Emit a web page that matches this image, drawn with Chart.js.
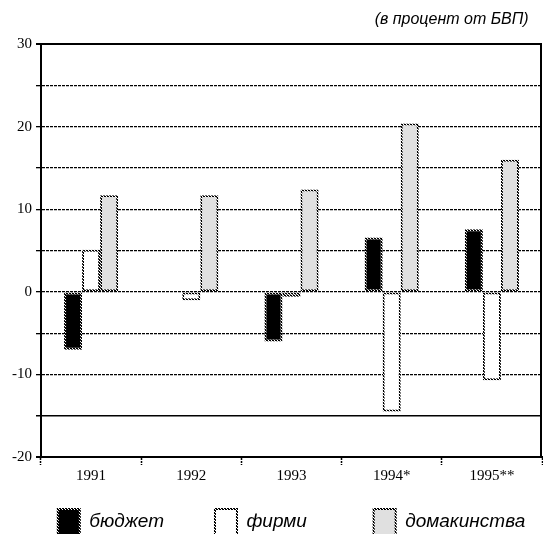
<!DOCTYPE html>
<html>
<head>
<meta charset="utf-8">
<script src="https://cdn.jsdelivr.net/npm/chart.js@4/dist/chart.umd.min.js"></script>
<style>
  html, body { margin: 0; padding: 0; background: #fff; }
  #wrap { width: 543px; height: 534px; }
</style>
</head>
<body>
<div id="wrap"><canvas id="myChart" width="543" height="534"></canvas></div>
<script>
var years = ['1991', '1992', '1993', '1994*', '1995**'];
var budget = [-7.0, null, -6.0, 6.6, 7.6];
var firms = [5.1, -1.0, -0.6, -14.5, -10.7];
var households = [11.7, 11.7, 12.4, 20.4, 16.0];
var seriesNames = ['бюджет', 'фирми', 'домакинства'];

var legendFont = { family: 'Liberation Sans', size: 19, style: 'italic' };
var legendPad = 14;
var legendSlot = 158; // legend items sit in equal columns in the original

// dotted border like the scanned original
function dottedPattern() {
  var c = document.createElement('canvas');
  c.width = 3; c.height = 3;
  var g = c.getContext('2d');
  g.fillStyle = '#000';
  g.fillRect(0, 0, 3, 3);
  g.fillStyle = '#fff';
  g.fillRect(0, 0, 1, 1);
  g.fillRect(1, 1, 1, 1);
  g.fillRect(2, 2, 1, 1);
  return g.createPattern(c, 'repeat');
}
var dots = dottedPattern();

// pad label text with spaces so each legend item fills its column
var measure = document.createElement('canvas').getContext('2d');
measure.font = 'italic ' + legendFont.size + 'px ' + legendFont.family;
function padText(t, w) {
  while (measure.measureText(t + ' ').width - w < w - measure.measureText(t).width) t += ' ';
  return t;
}

var rightBorder = {
  id: 'rightBorder',
  afterDraw: function (chart) {
    var a = chart.chartArea, c = chart.ctx;
    c.save();
    c.strokeStyle = '#000';
    c.lineWidth = 2;
    c.beginPath();
    c.moveTo(a.right - 1, a.top - 1);
    c.lineTo(a.right - 1, a.bottom);
    c.stroke();
    c.restore();
  }
};

var ctx = document.getElementById('myChart');
var myChart = new Chart(ctx, {
  type: 'bar',
  data: {
    labels: years,
    datasets: [
      { label: seriesNames[0], data: budget, backgroundColor: '#000', borderColor: dots, borderWidth: 2, borderSkipped: false },
      { label: seriesNames[1], data: firms, backgroundColor: '#fff', borderColor: dots, borderWidth: 2, borderSkipped: false },
      { label: seriesNames[2], data: households, backgroundColor: '#e0e0e0', borderColor: dots, borderWidth: 2, borderSkipped: false }
    ]
  },
  plugins: [rightBorder],
  options: {
    responsive: false,
    maintainAspectRatio: false,
    animation: false,
    layout: { padding: { left: 8, right: 1, top: 0, bottom: -11 } },
    datasets: { bar: { categoryPercentage: 0.54, barPercentage: 1.0 } },
    plugins: {
      tooltip: { enabled: false },
      title: {
        display: true,
        text: '(в процент от БВП)   ',
        align: 'end',
        color: '#000',
        font: { family: 'Liberation Sans', size: 16, style: 'italic', weight: 'normal' },
        padding: { top: 10, bottom: 15 }
      },
      legend: {
        position: 'bottom',
        fullSize: false,
        labels: {
          color: '#000',
          boxWidth: 22,
          boxHeight: 26,
          padding: legendPad,
          font: legendFont,
          generateLabels: function (chart) {
            var items = Chart.defaults.plugins.legend.labels.generateLabels(chart);
            var textW = legendSlot - legendPad - 22 - legendFont.size / 2;
            items.forEach(function (it, i) {
              if (i < items.length - 1) it.text = padText(it.text, textW);
            });
            return items;
          }
        }
      }
    },
    scales: {
      x: {
        offset: true,
        afterFit: function (scale) { scale.height = 38; },
        grid: { offset: true, drawOnChartArea: false, drawTicks: true, tickLength: 8, tickColor: '#000', tickWidth: 1.5, tickBorderDash: [2, 1] },
        border: { display: true, color: '#000', width: 2 },
        ticks: { color: '#000', padding: 4, font: { family: 'Liberation Serif', size: 15, lineHeight: 1 } }
      },
      y: {
        min: -20,
        max: 30,
        ticks: {
          stepSize: 5,
          color: '#000',
          padding: 4,
          font: { family: 'Liberation Serif', size: 15 },
          callback: function (v) { return v % 10 === 0 ? v : ''; }
        },
        grid: {
          color: '#000',
          tickColor: '#000',
          tickLength: 5,
          lineWidth: function (c) {
            if (!c.tick) return 1;
            if (c.tick.value === 30 || c.tick.value === -20) return 2;
            if (c.tick.value === -15) return 1.5;
            return 1.3;
          }
        },
        border: {
          display: true,
          color: '#000',
          width: 2,
          dash: function (c) {
            if (!c.tick) return [];
            var v = c.tick.value;
            return (v === 30 || v === -20 || v === -15) ? [] : [3, 1];
          }
        }
      }
    }
  }
});
</script>
</body>
</html>
